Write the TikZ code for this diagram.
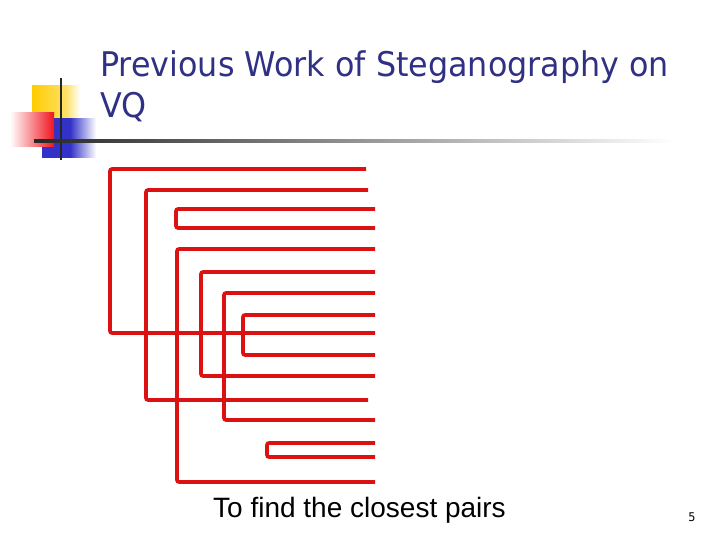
\documentclass[tikz,border=0pt]{standalone}
\usepackage{fontspec}
\usepackage{xcolor}
\usepackage{tikz}
\usetikzlibrary{positioning}
\newfontfamily\titlefont[FakeStretch=0.935]{DejaVu Sans}
\newfontfamily\bodyfont{Liberation Sans}
\definecolor{titleblue}{RGB}{48,48,132}
\definecolor{dendred}{RGB}{220,18,18}
\definecolor{logoyellow}{RGB}{255,204,0}
\definecolor{logoblue}{RGB}{50,50,200}
\definecolor{logored}{RGB}{240,20,30}

\begin{document}
\begin{tikzpicture}[
   x=1pt, y=-1pt,
   title/.style = {anchor=base west, inner sep=0pt, align=left,
                   text=titleblue, font=\titlefont\fontsize{34}{41}\selectfont},
   pairline/.style = {draw=dendred, line width=3.6pt, rounded corners=2pt},
   caption/.style = {anchor=base west, inner sep=0pt,
                     font=\bodyfont\fontsize{28}{32}\selectfont}
]
\useasboundingbox (0,0) rectangle (720,540);

% logo
\shade[left color=logoyellow, right color=logoyellow!60!white] (32,86) rectangle (66,118);
\shade[left color=logoyellow!60!white, right color=white] (66,86) rectangle (80,118);
\shade[left color=logoblue, right color=logoblue] (42,119) rectangle (70,158);
\shade[left color=logoblue, right color=white] (70,119) rectangle (96,158);
\shade[left color=white, right color=logored] (10,113) rectangle (54,147);
\draw[line width=2.4pt, black!85] (61,78) -- (61,160);
\shade[left color=black!85, right color=white] (34,139.6) rectangle (675,142.6);

% title (base is the last line)
\node[title] (ttl) at (100,118) {Previous Work of Steganography on\\VQ};

% pairs
\foreach \ya/\yb/\xk/\xa/\xb [count=\i] in
   {169/333/110/366/375, 190/400/146/368/368, 209/228/176/375/375,
    249/482/177/375/375, 272/376/201/375/375, 293/420/224/375/375,
    315/355/243/375/375, 443/457/267/375/375}
{
  \coordinate (top\i) at (\xa,\ya);
  \coordinate (bot\i) at (\xb,\yb);
  \draw[pairline] (top\i) -| (\xk,\yb) -- (bot\i);
}

\node[caption] (cap) at (213,517) {To find the closest pairs};
\node[anchor=base, inner sep=0pt, font=\titlefont\fontsize{12}{14}\selectfont]
   (pgno) at (692,521) {5};
\end{tikzpicture}
\end{document}
